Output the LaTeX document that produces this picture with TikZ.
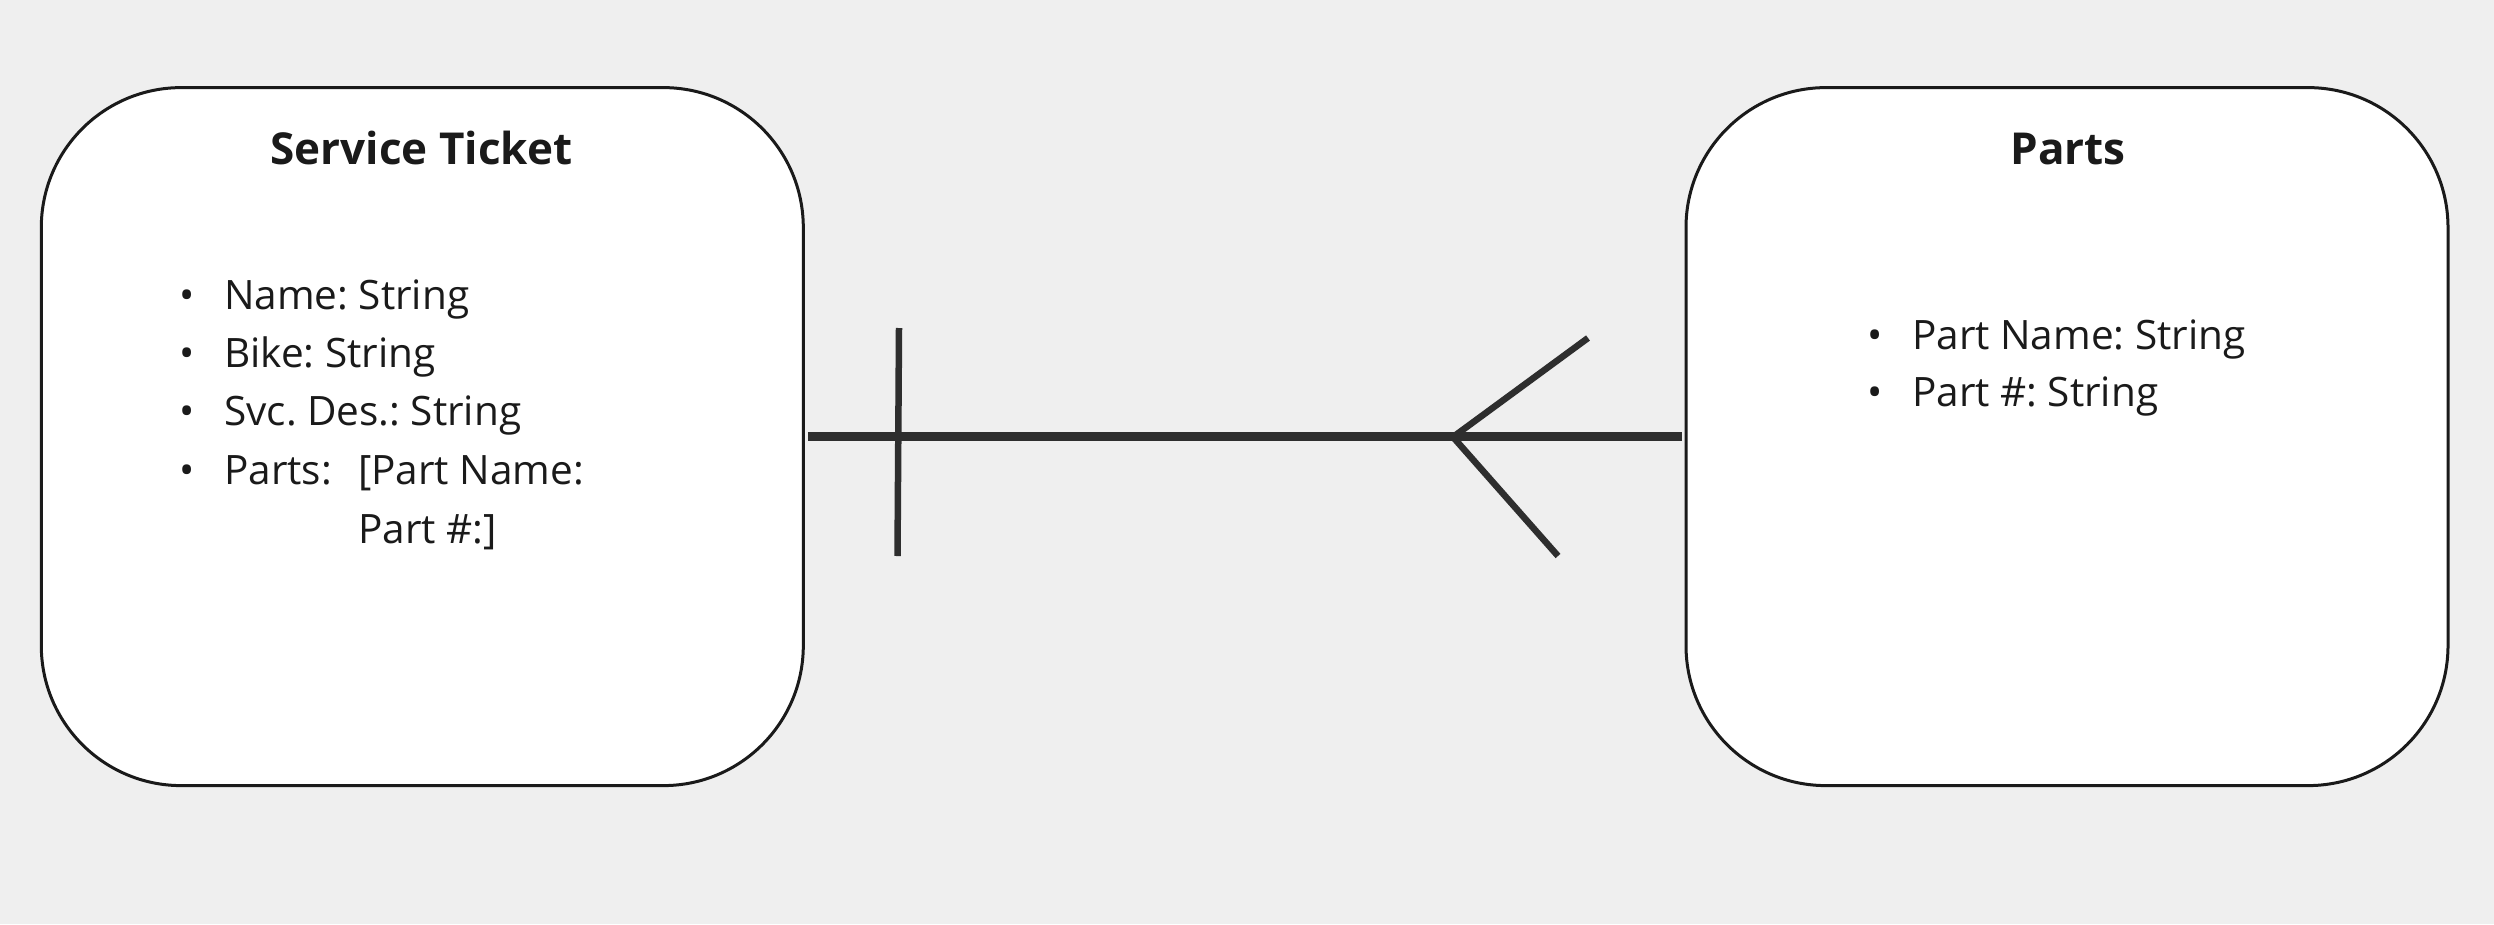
\documentclass[tikz,border=0pt]{standalone}
\usepackage{fontspec}
\setmainfont{Open Sans}
\frenchspacing
\definecolor{bgc}{HTML}{EFEFEF}
\definecolor{ink}{HTML}{1A1A1A}
\definecolor{conn}{HTML}{2E2E2E}
\begin{document}
\begin{tikzpicture}[x=1pt,y=-1pt,
  entity/.style={draw=ink, line width=3pt, fill=white, rounded corners=140pt,
    minimum width=762pt, minimum height=698pt, inner sep=0pt},
  ttl/.style={anchor=base, inner sep=0pt, text=ink, font=\fontsize{44}{52}\selectfont\bfseries},
  item/.style={anchor=base west, inner sep=0pt, text=ink, font=\frenchspacing\fontsize{40.5}{48}\selectfont},
  link/.style={draw=conn, line width=8.5pt},
  tick/.style={draw=conn, line width=6.5pt}]
\fill[bgc] (0,0) rectangle (2494,924);
\useasboundingbox (0,0) rectangle (2494,924);

\node[entity] (st) at (422.3,436.6) {};
\node[entity] (parts) at (2067,436.6) {};

\node[ttl] (stt) at (421.5,164) {Service Ticket};
\node[ttl] (pt) at (2068,164) {Parts};

\node[item] (b1) at (179,309) {•};
\node[item] (i1) at (224,309) {Name: String};
\node[item] (b2) at (179,367) {•};
\node[item] (i2) at (224,367) {Bike: String};
\node[item] (b3) at (179,425) {•};
\node[item] (i3) at (224,425) {Svc. Des.: String};
\node[item] (b4) at (179,484) {•};
\node[item] (i4) at (224,484) {Parts:};
\node[item] (i4a) at (358,484) {[Part Name:};
\node[item] (i4b) at (358,543) {Part \#:]};

\node[item] (b5) at (1867,349) {•};
\node[item] (i5) at (1912,349) {Part Name: String};
\node[item] (b6) at (1867,406) {•};
\node[item] (i6) at (1912,406) {Part \#: String};

\draw[link] (st.east) ++(3,0) coordinate (ls) -- ([xshift=-3pt]parts.west);
\coordinate (bt) at (899,328);
\coordinate (bb) at (897.5,556);
\draw[tick] (bt) -- (bb);
\coordinate (cv) at (1453,437);
\coordinate (cu) at (1588,338);
\coordinate (cl) at (1558,556);
\draw[tick] (cu) -- (cv) -- (cl);
\end{tikzpicture}
\end{document}
